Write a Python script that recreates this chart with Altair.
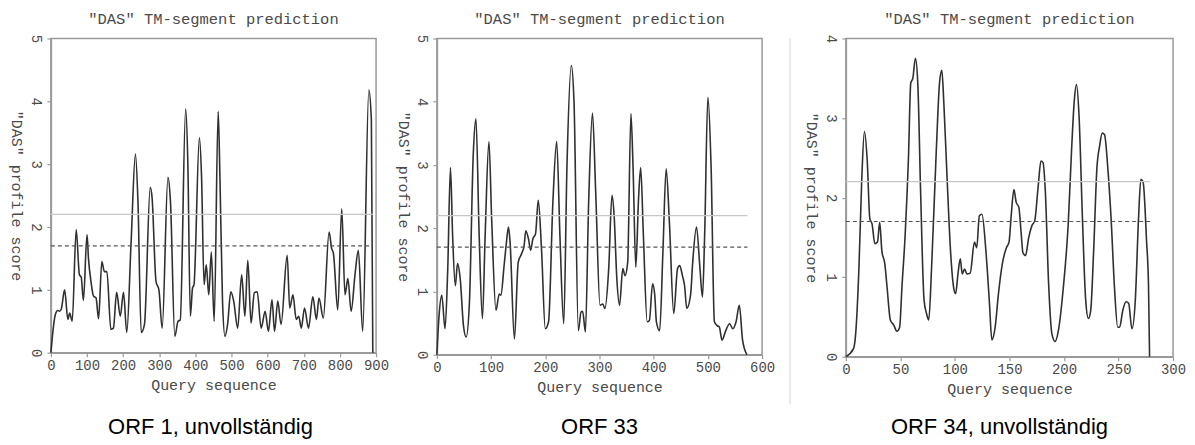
import altair as alt
import pandas as pd

# ---------------- data ----------------
ORF1_POS = [0, 12, 19, 24, 29, 38, 47, 52, 59, 70, 79, 84, 90, 100, 104, 111, 118, 125, 132,
            141, 148, 155, 166, 173, 182, 192, 201, 210, 222, 234, 241, 250, 259, 275, 280,
            291, 299, 308, 324, 331, 343, 352, 358, 373, 379, 386, 392, 396, 411, 417, 424,
            430, 437, 444, 452, 463, 468, 475, 482, 489, 498, 506, 517, 528, 537, 545, 554,
            563, 571, 582, 593, 602, 612, 619, 628, 637, 654, 661, 670, 679, 686, 693, 702,
            713, 725, 735, 742, 754, 770, 777, 782, 794, 805, 814, 822, 831, 842, 851, 863,
            880, 887, 891]
ORF1_SCORE = [0, 0.6, 0.67, 0.66, 0.7, 1.0, 0.53, 0.63, 0.5, 1.96, 1.24, 1.2, 0.83, 1.88, 1.5,
              1.13, 0.9, 0.87, 0.54, 1.45, 1.29, 1.29, 0.37, 0.39, 0.96, 0.58, 0.96, 0.32, 1.76,
              3.16, 2.4, 0.32, 0.45, 2.63, 2.47, 1.13, 1.0, 0.39, 2.79, 2.4, 0.26, 0.5, 0.52,
              3.88, 3.03, 0.58, 1.03, 1.08, 3.42, 2.8, 1.08, 1.4, 0.92, 1.6, 0.5, 3.84, 2.76,
              0.82, 0.26, 0.45, 0.97, 0.82, 0.39, 1.24, 0.58, 1.47, 0.47, 0.95, 0.97, 0.39,
              0.66, 0.34, 0.84, 0.34, 0.82, 0.45, 1.55, 0.71, 0.92, 0.53, 0.58, 0.39, 0.71,
              0.39, 0.89, 0.53, 0.87, 0.55, 1.92, 1.66, 1.58, 0.68, 2.29, 0.92, 1.18, 0.66,
              1.26, 1.63, 0.34, 4.18, 3.7, 0]

ORF33_POS = [0, 4, 9, 15, 20, 25, 29, 34, 38, 43, 49, 54, 60, 67, 72, 78, 84, 89, 96, 101,
             109, 115, 118, 124, 128, 132, 135, 143, 150, 156, 161, 164, 169, 173, 177, 182,
             187, 193, 200, 206, 214, 221, 227, 234, 240, 248, 253, 261, 266, 269, 274, 280,
             287, 293, 301, 306, 310, 317, 323, 327, 332, 337, 343, 347, 352, 358, 362, 367,
             372, 376, 381, 388, 392, 398, 402, 405, 411, 417, 423, 429, 437, 444, 448, 453,
             457, 461, 468, 472, 479, 485, 490, 494, 500, 506, 512, 517, 521, 526, 533, 540,
             546, 552, 558, 564, 572]
ORF33_SCORE = [0, 0.62, 0.94, 0.41, 1.36, 2.96, 1.88, 1.09, 1.44, 1.2, 0.46, 0.28, 0.83, 3.15,
               3.73, 1.88, 0.57, 1.88, 3.37, 2.15, 0.7, 0.96, 0.94, 1.41, 1.75, 2.02, 1.78,
               0.25, 1.46, 1.59, 1.73, 1.96, 1.83, 1.65, 1.83, 1.91, 2.44, 1.67, 0.41, 0.52,
               2.41, 3.37, 1.88, 0.49, 2.99, 4.57, 3.99, 0.38, 0.68, 0.68, 0.36, 2.41, 3.82,
               2.57, 0.78, 0.8, 0.73, 1.36, 2.52, 2.2, 1.2, 0.78, 1.36, 1.25, 1.46, 3.81, 2.94,
               1.38, 2.46, 2.96, 1.88, 0.52, 0.54, 1.12, 0.94, 0.52, 0.38, 1.62, 2.94, 2.09,
               0.65, 1.36, 1.41, 1.25, 1.09, 0.73, 0.94, 1.46, 2.02, 1.41, 0.91, 1.88, 4.07,
               2.94, 0.52, 0.46, 0.44, 0.23, 0.38, 0.49, 0.41, 0.52, 0.78, 0.23, 0]

ORF34_POS = [0, 7, 9, 12, 14.5, 17, 19.6, 22, 24, 26.6, 29, 31, 33, 35.7, 37.8, 40.8, 43.8,
             46.8, 49.3, 51.4, 54.4, 57.4, 59.5, 61.4, 63.8, 66, 68.6, 71.7, 74, 76, 78.6, 83,
             86, 88, 89.8, 92.8, 95.8, 98.8, 100.6, 102.8, 104.9, 106.7, 108.8, 111, 114,
             117.9, 120, 122.4, 124.8, 128.4, 131.5, 133.9, 136.9, 139.9, 143.5, 147.2, 149.6,
             151.7, 154.1, 156.2, 158.6, 160.8, 162.3, 164.7, 167.7, 170.7, 173.2, 176.2,
             178.9, 180.8, 182.9, 185.9, 188.9, 191.9, 194.9, 199.4, 203.9, 206.9, 209.4,
             211.5, 213.9, 216.9, 219.9, 222.4, 224.5, 227.2, 230.2, 232.7, 235.1, 237.2,
             240.2, 243.3, 246.3, 249.3, 251, 253.9, 256.9, 259.3, 262.3, 265.4, 268.4, 270.5,
             272.6, 275.7, 277.5, 278.5]
ORF34_SCORE = [0, 0.1, 0.29, 1.12, 2.2, 2.83, 2.46, 1.73, 1.67, 1.42, 1.44, 1.69, 1.33, 1.17,
               0.87, 0.46, 0.4, 0.32, 0.37, 0.87, 1.54, 2.5, 3.44, 3.5, 3.75, 3.42, 2.04, 0.71,
               0.54, 0.46, 1.12, 2.62, 3.46, 3.6, 3.2, 2.25, 1.37, 0.87, 0.79, 1.04, 1.23, 1.04,
               1.1, 1.04, 1.05, 1.44, 1.37, 1.77, 1.79, 1.33, 0.71, 0.21, 0.37, 0.79, 1.17,
               1.37, 1.44, 1.79, 2.1, 1.94, 1.88, 1.54, 1.31, 1.27, 1.5, 1.65, 1.71, 2.12, 2.46,
               2.44, 2.08, 0.92, 0.29, 0.19, 0.33, 0.87, 1.67, 2.58, 3.21, 3.42, 3.0, 1.75,
               0.71, 0.48, 0.58, 1.33, 2.37, 2.65, 2.81, 2.79, 2.37, 1.71, 0.87, 0.37, 0.37,
               0.58, 0.69, 0.67, 0.35, 0.71, 1.75, 2.23, 2.19, 1.46, 0.9, 0]

CAPTIONS = ["ORF 1, unvollständig", "ORF 33", "ORF 34, unvollständig"]
X_MAX = [900, 600, 300]
X_STEP = [100, 100, 50]
Y_MAX = [5, 5, 4]
SEQ_LEN = [891, 573, 279]
STRICT_CUTOFF = 2.2
LOOSE_CUTOFF = 1.7
PLOT_TITLE = '"DAS" TM-segment prediction'
X_TITLE = "Query sequence"
Y_TITLE = '"DAS" profile score'

# ---------------- style ----------------
MONO = "Liberation Mono"
TXT = "#4a4a4a"
FRAME = "#9a9a9a"


def make_panel(pos, score, xmax, xstep, ymax, seqlen, caption, w, h, cap_x, separator=False):
    xs = alt.Scale(domain=[0, xmax], nice=False)
    ys = alt.Scale(domain=[0, ymax], nice=False)
    xaxis = alt.Axis(values=list(range(0, xmax + 1, xstep)), title=X_TITLE, grid=False,
                     tickSize=4, labelPadding=2, titlePadding=5, labelAngle=0,
                     labelOverlap=False, labelFlush=False,
                     labelFont=MONO, labelFontSize=14, labelColor=TXT,
                     titleFont=MONO, titleFontSize=15, titleFontWeight="normal",
                     titleColor=TXT, domainColor=FRAME, domainWidth=1.5,
                     tickColor=FRAME, tickWidth=1.2)
    yaxis = alt.Axis(values=list(range(0, ymax + 1)), title=Y_TITLE, grid=False,
                     tickSize=4, labelPadding=4, titlePadding=5,
                     labelOverlap=False, labelFlush=False,
                     labelAngle=90, labelAlign="center", labelBaseline="top",
                     titleAngle=90, titleAlign="center", titleBaseline="top",
                     labelFont=MONO, labelFontSize=14, labelColor=TXT,
                     titleFont=MONO, titleFontSize=15, titleFontWeight="normal",
                     titleColor=TXT, domainColor=FRAME, domainWidth=1.5,
                     tickColor=FRAME, tickWidth=1.2)

    curve = alt.Chart(pd.DataFrame({"pos": pos, "score": score})).mark_line(
        color="#303030", strokeWidth=1.6, interpolate="monotone"
    ).encode(x=alt.X("pos:Q", scale=xs, axis=xaxis),
             y=alt.Y("score:Q", scale=ys, axis=yaxis))

    solid = alt.Chart(pd.DataFrame({"pos": [0], "b": [seqlen], "score": [STRICT_CUTOFF]})).mark_rule(
        color="#c6c6c6", strokeWidth=1.2
    ).encode(x=alt.X("pos:Q", scale=xs, axis=xaxis), x2="b:Q",
             y=alt.Y("score:Q", scale=ys, axis=yaxis))

    dashed = alt.Chart(pd.DataFrame({"pos": [0], "b": [seqlen], "score": [LOOSE_CUTOFF]})).mark_rule(
        color="#555555", strokeWidth=1.1, strokeDash=[4, 3]
    ).encode(x=alt.X("pos:Q", scale=xs, axis=xaxis), x2="b:Q",
             y=alt.Y("score:Q", scale=ys, axis=yaxis))

    cap = alt.Chart(pd.DataFrame({"c": [caption]})).mark_text(
        font="Liberation Sans", fontSize=22, color="#000000", align="center", baseline="middle"
    ).encode(text="c:N", x=alt.value(cap_x), y=alt.value(390))

    layers = [curve, solid, dashed, cap]
    if separator:
        sep = alt.Chart(pd.DataFrame({"c": [caption]})).mark_rule(
            color="#e2e2e2", strokeWidth=1.5
        ).encode(x=alt.value(-56), y=alt.value(0), y2=alt.value(367))
        layers.append(sep)

    return alt.layer(*layers).properties(
        width=w, height=h,
        title=alt.TitleParams(text=PLOT_TITLE, font=MONO, fontSize=15.5, fontWeight="normal",
                              color=TXT, anchor="middle", frame="group", offset=7),
    )


p1 = make_panel(ORF1_POS, ORF1_SCORE, X_MAX[0], X_STEP[0], Y_MAX[0], SEQ_LEN[0], CAPTIONS[0], 326, 315, 160)
p2 = make_panel(ORF33_POS, ORF33_SCORE, X_MAX[1], X_STEP[1], Y_MAX[1], SEQ_LEN[1], CAPTIONS[1], 326, 317, 163)
p3 = make_panel(ORF34_POS, ORF34_SCORE, X_MAX[2], X_STEP[2], Y_MAX[2], SEQ_LEN[2], CAPTIONS[2], 328, 319, 154,
                separator=True)

chart = alt.hconcat(alt.hconcat(p1, p2, spacing=4), p3, spacing=12).configure_view(
    stroke=FRAME, strokeWidth=1.5
).properties(padding={"left": 0, "top": 2, "right": 0, "bottom": 0}, background="white")

chart.save("out.html", embed_options={"renderer": "svg", "actions": False})
